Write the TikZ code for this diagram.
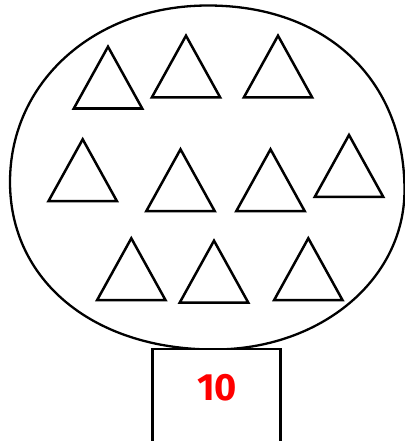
\documentclass[tikz,border=0pt]{standalone}
\usepackage{fontspec}
\newfontfamily\numfont{Fira Sans}
\begin{document}
\begin{tikzpicture}[x=1pt,y=-1pt,
  outline/.style={draw=black,line width=2.3pt},
  triline/.style={draw=black,line width=2.5pt,line join=miter},
  numlabel/.style={text=red,font=\numfont\bfseries\fontsize{38}{38}\selectfont,inner sep=0pt}]
\useasboundingbox (0,0) rectangle (404,441);
\coordinate (L) at (10,182);
\coordinate (T) at (208,5.5);
\coordinate (R) at (404.5,190);
\coordinate (B) at (214,349.5);
\draw[outline] (L) .. controls (10,81.4) and (95.1,5.5) .. (T)
  .. controls (326,5.5) and (404.5,79.3) .. (R)
  .. controls (404.5,279.3) and (321,349.5) .. (B)
  .. controls (93.6,349.5) and (10,280.8) .. (L) -- cycle;
\foreach \ax/\ay [count=\i] in {108/46.7,186/35.7,278/35.7,82.7/139.3,180.5/149.3,270.5/149.3,349/135,131.3/238.3,214/240.7,308.3/238.3}{
  \coordinate (apex\i) at (\ax,\ay);
  \draw[triline] (apex\i) -- ++(34.2,61.8) -- ++(-68.4,0) -- cycle;
}
\coordinate (bl) at (152.5,441);
\coordinate (br) at (280.5,441);
\fill[white] (152.5,349) rectangle (280.5,441);
\draw[outline,line width=2.4pt] (bl) |- (216,349) -| (br);
\node[numlabel] (n) at (217,388) {10};
\end{tikzpicture}
\end{document}
